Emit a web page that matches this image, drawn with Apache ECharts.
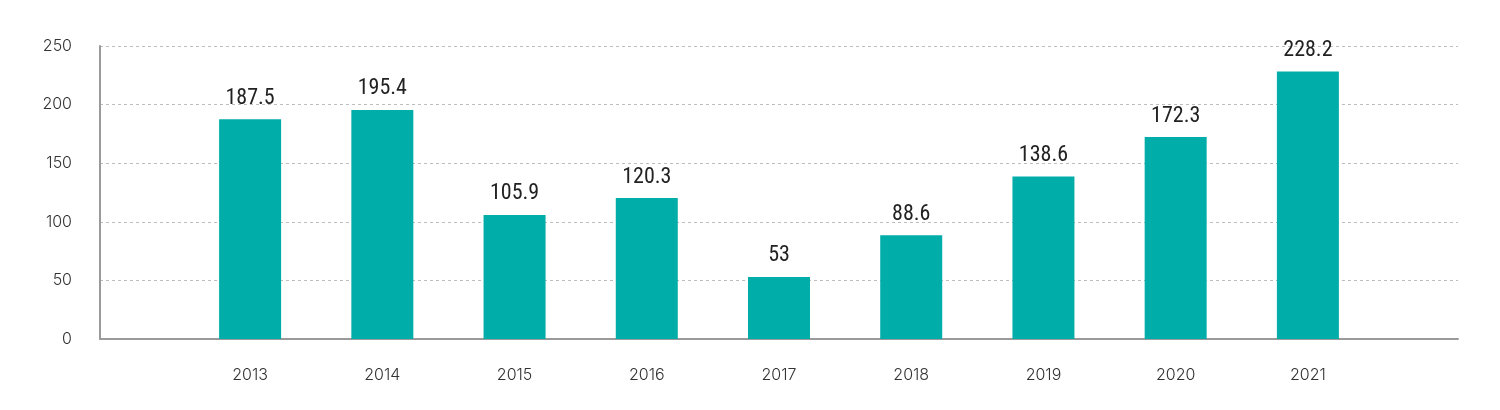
<!DOCTYPE html>
<html><head><meta charset="utf-8">
<script src="https://cdn.jsdelivr.net/npm/echarts@6/dist/echarts.min.js"></script>
<style>html,body{margin:0;padding:0;background:#fff}#c{width:1500px;height:410px}</style>
</head><body><div id="c"></div>
<script>
const categories = ['2013','2014','2015','2016','2017','2018','2019','2020','2021'];
const values = [187.5, 195.4, 105.9, 120.3, 53, 88.6, 138.6, 172.3, 228.2];
const yTicks = [0, 50, 100, 150, 200, 250];

const chart = echarts.init(document.getElementById('c'));
const axisFont = {fontFamily: 'Inter, "Open Sans", sans-serif', fontSize: 16, fontWeight: 300, color: '#333'};
chart.setOption({
  animation: false,
  grid: [
    {left: 100, right: 42, top: 46, bottom: 71},
    {left: 184, right: 126, top: 46, bottom: 71}
  ],
  xAxis: [
    {gridIndex: 0, type: 'value', min: 0, max: 1, axisLabel: {show: false}, axisTick: {show: false}, splitLine: {show: false},
     axisLine: {show: true, lineStyle: {color: '#9a9a9a', width: 2}}},
    {gridIndex: 1, type: 'category', data: categories, axisLine: {show: false}, axisTick: {show: false},
     axisLabel: Object.assign({margin: 28}, axisFont)}
  ],
  yAxis: [
    {gridIndex: 0, type: 'value', min: yTicks[0], max: yTicks[yTicks.length-1], interval: 50,
     axisLine: {show: true, lineStyle: {color: '#9a9a9a', width: 2}}, axisTick: {show: false},
     axisLabel: Object.assign({margin: 28}, axisFont),
     splitLine: {show: true, lineStyle: {color: '#bdbdbd', type: [3, 3], width: 1}}},
    {gridIndex: 1, type: 'value', min: 0, max: 250, show: false}
  ],
  series: [{
    type: 'bar', xAxisIndex: 1, yAxisIndex: 1, data: values, barWidth: 62,
    itemStyle: {color: '#00ADA9'},
    label: {show: true, position: 'top', distance: 10, color: '#222',
      fontFamily: '"Liberation Sans Narrow", "Roboto Condensed", Roboto, sans-serif', fontSize: 22}
  }]
});
</script></body></html>
